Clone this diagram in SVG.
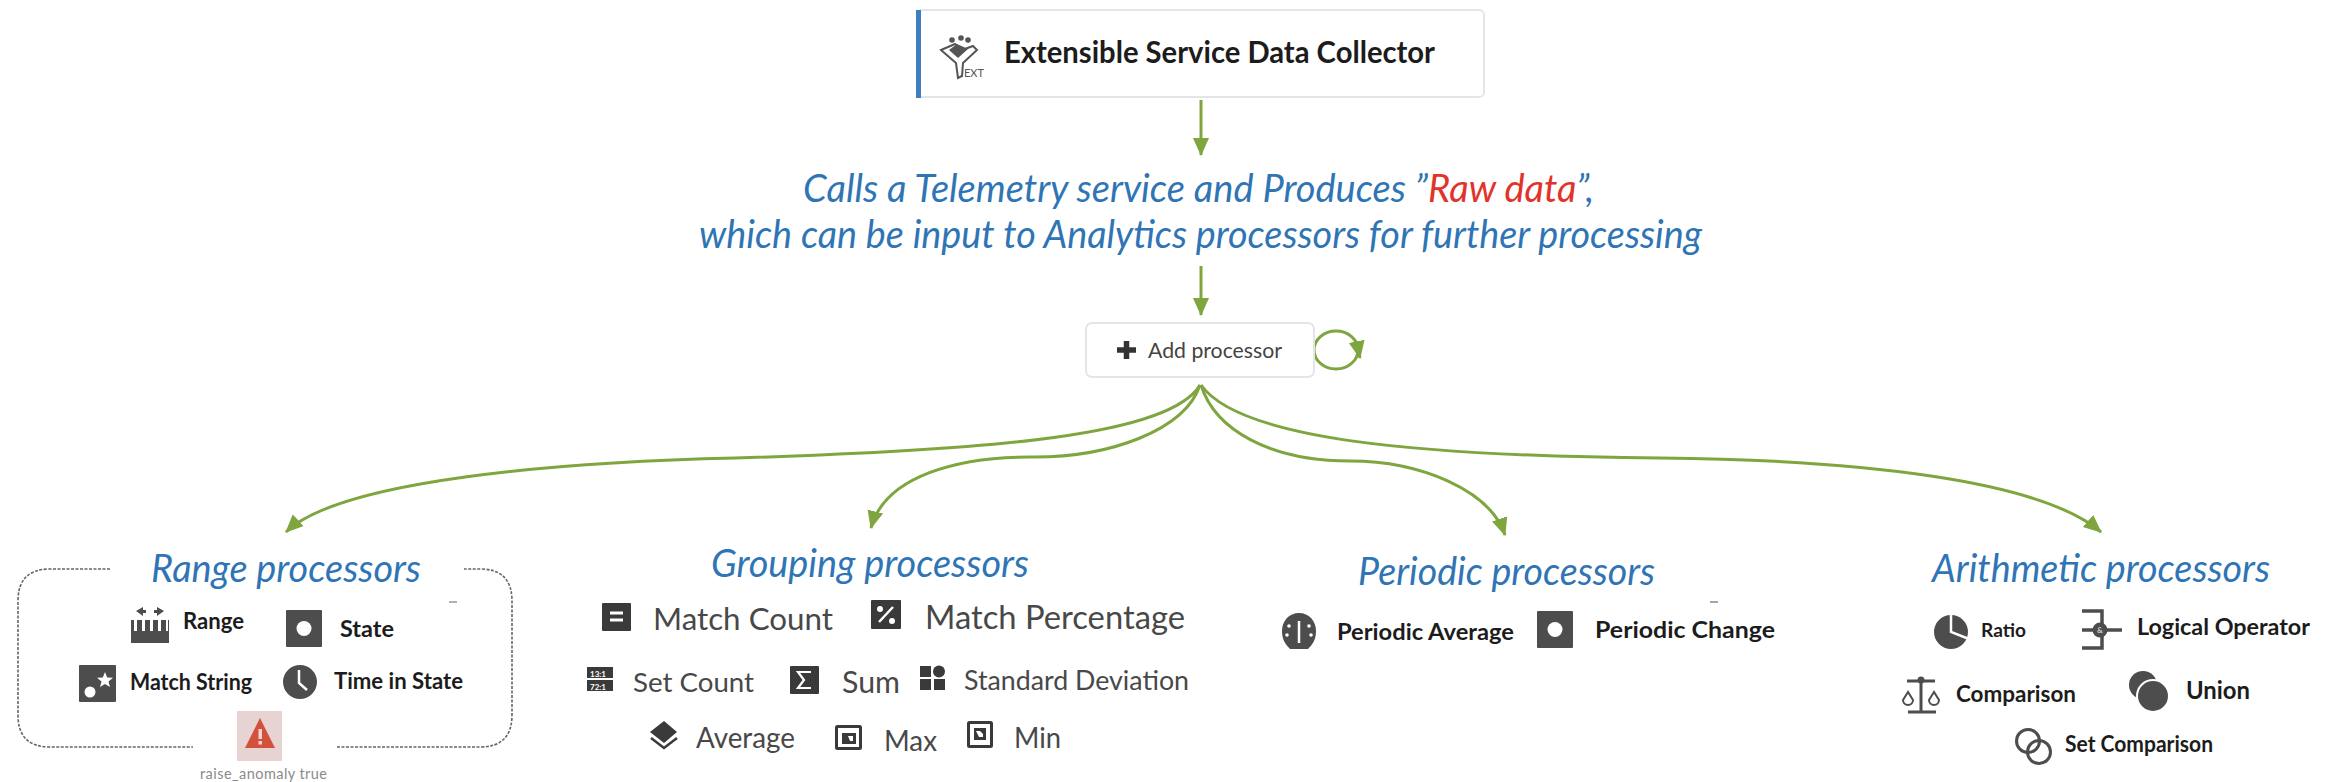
<svg xmlns="http://www.w3.org/2000/svg" xmlns:xlink="http://www.w3.org/1999/xlink" width="2333" height="782" viewBox="0 0 2333 782">
<style>
text{font-family:"Lato","Noto Sans","Liberation Sans",sans-serif}
.h{font-style:italic;fill:#2f75b5;font-size:38px}
.b{font-weight:700;fill:#1c1c1c;font-size:22.500px}
.r{fill:#484848;font-size:31px}
.i{fill:#4d4d4d}
.c{fill:none;stroke:#7fa53f;stroke-width:3}
.card{fill:#fff;stroke:#e3e6e9;stroke-width:2}
.dash{fill:none;stroke:#666;stroke-width:1.6;stroke-dasharray:3 1.5}
</style>
<defs>
<marker id="a" markerUnits="userSpaceOnUse" markerWidth="20" markerHeight="18" viewBox="0 0 20 18" refX="17" refY="9" orient="auto"><path d="M0 1L18 9L0 17Z" fill="#7fa53f"/></marker>
<g id="sq"><rect width="36" height="37" rx="1" class="i"/><circle cx="18" cy="18.500" r="7.500" fill="#fff"/></g>
</defs>
<rect width="2333" height="782" fill="#fff"/>
<g id="connectors">
<path class="c" d="M1201 100V155" marker-end="url(#a)"/>
<path class="c" d="M1201 266V315" marker-end="url(#a)"/>
<ellipse class="c" cx="1336" cy="350" rx="22" ry="19"/>
<path class="c" d="M1356 342Q1358 348 1360 358" marker-end="url(#a)"/>
<path class="c" d="M1200 385C1170 435 1000 450 735 458C560 462 340 480 286 532" marker-end="url(#a)"/>
<path class="c" d="M1200 385C1185 430 1110 458 1030 457C960 457 885 475 871 528" marker-end="url(#a)"/>
<path class="c" d="M1201 385C1215 430 1270 461 1350 461C1420 461 1490 490 1505 535" marker-end="url(#a)"/>
<path class="c" d="M1201 385C1240 440 1420 456 1660 458C1860 460 2040 480 2101 532" marker-end="url(#a)"/>
</g>
<g id="collector">
<rect class="card" x="917" y="10" width="567" height="87" rx="5"/>
<rect x="916" y="10" width="5" height="88" fill="#3f7fbf"/>
<g fill="#555"><circle cx="952" cy="40" r="2.800"/><circle cx="961" cy="38" r="2.800"/><circle cx="968" cy="40" r="2.800"/><path d="M941 50L955 44L962 50L973 46L977 50L963 63L962 76L958 78L956 63Z" fill="none" stroke="#555" stroke-width="2"/><path d="M949 50L957 44L968 49L958 58Z"/></g>
<text x="964" y="77" font-size="10.500" fill="#555" textLength="20" lengthAdjust="spacingAndGlyphs">EXT</text>
<text x="1004" y="63" font-size="30" font-weight="700" fill="#1c1c1c" textLength="431" lengthAdjust="spacingAndGlyphs">Extensible Service Data Collector</text>
</g>
<g id="description">
<text class="h" x="803" y="202">Calls a Telemetry service and Produces ”<tspan fill="#e2332a">Raw data</tspan>”,</text>
<text class="h" x="699" y="248" textLength="1003" lengthAdjust="spacingAndGlyphs">which can be input to Analytics processors for further processing</text>
</g>
<g id="add-processor">
<rect class="card" x="1086" y="323" width="228" height="54" rx="6"/>
<path d="M1117 350h19M1126.500 341v18" stroke="#333" stroke-width="5.500" fill="none"/>
<text x="1148" y="358" font-size="21.500" fill="#444" textLength="134" lengthAdjust="spacingAndGlyphs">Add processor</text>
</g>
<g id="range-processors">
<path class="dash" d="M110 569H50Q18 569 18 601V715Q18 747 50 747H193M337 747H480Q512 747 512 715V601Q512 569 480 569H464"/>
<text class="h" x="151" y="582" textLength="270" lengthAdjust="spacingAndGlyphs">Range processors</text>
<g id="range">
<path class="i" d="M131 620h3v11h3v-11h5v11h3v-11h5v11h3v-11h5v11h3v-11h5v11h2v-11h1v23h-38z"/>
<path class="i" d="M136 611l7-4v3h3v3h-3v3zM164 611l-7-4v3h-3v3h3v3z"/>
<text class="b" x="183" y="629" textLength="61" lengthAdjust="spacingAndGlyphs">Range</text></g>
<g id="state"><use xlink:href="#sq" href="#sq" x="286" y="610"/><text class="b" x="340" y="637" textLength="54" lengthAdjust="spacingAndGlyphs">State</text></g>
<g id="match-string"><rect class="i" x="79" y="665" width="37" height="37" rx="1"/><circle cx="90" cy="692" r="5.500" fill="#fff"/><path d="M105 672l2.200 5.500 5.800 .3-4.500 3.700 1.500 5.500-5-3-5 3 1.500-5.500-4.500-3.700 5.800-.3z" fill="#fff"/><text class="b" x="130" y="690" textLength="122" lengthAdjust="spacingAndGlyphs">Match String</text></g>
<g id="time-in-state"><circle class="i" cx="300" cy="682" r="17"/><path d="M299 670v13l8 7" stroke="#fff" stroke-width="2.500" fill="none"/><text class="b" x="334" y="689" textLength="129" lengthAdjust="spacingAndGlyphs">Time in State</text></g>
<g id="raise-anomaly"><rect x="237" y="711" width="45" height="50" fill="#e8d3d3"/><path d="M260 718L275 748H245Z" fill="#d2503c"/><rect x="258.500" y="729" width="3.500" height="10" fill="#f0d8d0"/><rect x="258.500" y="741" width="3.500" height="3.500" fill="#f0d8d0"/>
<text x="200" y="779" font-size="14.500" fill="#8a8a8a" textLength="127">raise_anomaly true</text></g>
<path d="M449 602h8" stroke="#8a99a8" stroke-width="1.500"/>
</g>
<g id="grouping-processors">
<text class="h" x="711" y="577" textLength="318" lengthAdjust="spacingAndGlyphs">Grouping processors</text>
<g id="match-count"><rect x="602" y="603" width="29" height="28" rx="1" fill="#3a3a3a"/><path d="M610 613h13M610 620h13" stroke="#fff" stroke-width="3"/><text class="r" x="653" y="630" textLength="180" lengthAdjust="spacingAndGlyphs">Match Count</text></g>
<g id="match-percentage"><rect x="871" y="600" width="30" height="29" rx="1" fill="#3a3a3a"/><path d="M879 622L893 607" stroke="#fff" stroke-width="2.500"/><circle cx="880" cy="609" r="3" fill="#fff"/><circle cx="892" cy="621" r="3" fill="#fff"/><text class="r" style="font-size:32.500px" x="925" y="629" textLength="260" lengthAdjust="spacingAndGlyphs">Match Percentage</text></g>
<g id="set-count"><rect x="587" y="667" width="26" height="11" fill="#3a3a3a"/><rect x="587" y="680" width="26" height="11" fill="#3a3a3a"/><text x="590" y="676.500" font-size="8" font-weight="700" fill="#fff">13:1</text><text x="590" y="689.500" font-size="8" font-weight="700" fill="#fff">72:1</text><text class="r" style="font-size:27.500px" x="633" y="692" textLength="121" lengthAdjust="spacingAndGlyphs">Set Count</text></g>
<g id="sum"><rect x="790" y="666" width="29" height="28" rx="1" fill="#3a3a3a"/><path d="M811 672h-13l6 8-6 8h13" stroke="#fff" stroke-width="2.200" fill="none"/><text class="r" style="font-size:30px" x="842" y="693" textLength="58" lengthAdjust="spacingAndGlyphs">Sum</text></g>
<g id="standard-deviation"><rect x="920" y="666" width="11" height="11" fill="#3a3a3a"/><circle cx="939" cy="671.500" r="6" fill="#3a3a3a"/><rect x="920" y="679" width="11" height="11" fill="#3a3a3a"/><rect x="934" y="679" width="11" height="11" fill="#3a3a3a"/><text class="r" style="font-size:27px" x="964" y="690" textLength="225" lengthAdjust="spacingAndGlyphs">Standard Deviation</text></g>
<g id="average"><path d="M664 721L677 732L664 743L650 732Z" fill="#3a3a3a"/><path d="M651 738L664 748L677 738" fill="none" stroke="#3a3a3a" stroke-width="2.500"/><text class="r" style="font-size:28px" x="696" y="748" textLength="99" lengthAdjust="spacingAndGlyphs">Average</text></g>
<g id="max"><rect x="836.500" y="726.500" width="24" height="22" rx="1" fill="none" stroke="#3a3a3a" stroke-width="3"/><path d="M842 733h14v11h-14z" fill="#3a3a3a"/><path d="M848 736h5v5h-3z" fill="#fff"/><text class="r" style="font-size:28px" x="884" y="751" textLength="53" lengthAdjust="spacingAndGlyphs">Max</text></g>
<g id="min"><rect x="968.500" y="722.500" width="23" height="24" rx="1" fill="none" stroke="#3a3a3a" stroke-width="3"/><path d="M974 728h12v12h-12z" fill="#3a3a3a"/><path d="M976 731h4l3 3v3h-4z" fill="#fff"/><text class="r" style="font-size:28px" x="1014" y="748" textLength="47" lengthAdjust="spacingAndGlyphs">Min</text></g>
</g>
<g id="periodic-processors">
<text class="h" x="1358" y="585" textLength="297" lengthAdjust="spacingAndGlyphs">Periodic processors</text>
<g id="periodic-average"><path class="i" d="M1299 613C1309 613 1316 621 1316 631C1316 639 1313 644 1308 649H1290C1285 644 1282 639 1282 631C1282 621 1289 613 1299 613Z"/><path d="M1299 621v22" stroke="#fff" stroke-width="2.500"/><circle cx="1289" cy="626" r="1.800" fill="#fff"/><circle cx="1309" cy="626" r="1.800" fill="#fff"/><circle cx="1287" cy="635" r="1.800" fill="#fff"/><circle cx="1311" cy="635" r="1.800" fill="#fff"/><text class="b" x="1337" y="640" style="font-size:23.500px" textLength="177" lengthAdjust="spacingAndGlyphs">Periodic Average</text></g>
<g id="periodic-change"><use xlink:href="#sq" href="#sq" x="1537" y="611"/><text class="b" x="1595" y="638" style="font-size:23.500px" textLength="180" lengthAdjust="spacingAndGlyphs">Periodic Change</text></g>
<path d="M1710 602h8" stroke="#8a8a8a" stroke-width="1.500"/>
</g>
<g id="arithmetic-processors">
<text class="h" x="1932" y="582" textLength="338" lengthAdjust="spacingAndGlyphs">Arithmetic processors</text>
<g id="ratio"><circle class="i" cx="1951" cy="632" r="17"/><path d="M1951 614V632L1969 639" stroke="#fff" stroke-width="2.500" fill="none"/><text class="b" style="font-size:19px" x="1981" y="637" textLength="45" lengthAdjust="spacingAndGlyphs">Ratio</text></g>
<g id="logical-operator"><path d="M2082 611h20v37h-20M2082 630h40" stroke="#4d4d4d" stroke-width="3.500" fill="none"/><circle class="i" cx="2100" cy="630" r="7.500"/><text x="2100" y="633" font-size="8" font-weight="700" fill="#ccc" text-anchor="middle">&amp;</text><text class="b" x="2137" y="635" style="font-size:23.500px" textLength="173" lengthAdjust="spacingAndGlyphs">Logical Operator</text></g>
<g id="comparison"><path d="M1921 678v34M1908 712h28M1907 681h28" stroke="#4d4d4d" stroke-width="3" fill="none"/><circle class="i" cx="1921" cy="680" r="3.500"/><path d="M1908 692l-5 8a5 5 0 0 0 10 0zM1934 692l-5 8a5 5 0 0 0 10 0z" fill="none" stroke="#4d4d4d" stroke-width="2"/><text class="b" x="1956" y="702" textLength="120" lengthAdjust="spacingAndGlyphs">Comparison</text></g>
<g id="union"><circle class="i" cx="2143" cy="685" r="14"/><circle cx="2153" cy="696" r="17" fill="#fff"/><circle class="i" cx="2153" cy="696" r="15"/><text class="b" style="font-size:24px" x="2186" y="699" textLength="64" lengthAdjust="spacingAndGlyphs">Union</text></g>
<g id="set-comparison"><circle cx="2028" cy="741" r="11.500" fill="none" stroke="#4d4d4d" stroke-width="3"/><circle cx="2039" cy="752" r="11.500" fill="none" stroke="#4d4d4d" stroke-width="3"/><text class="b" x="2065" y="752" textLength="148" lengthAdjust="spacingAndGlyphs">Set Comparison</text></g>
</g>
</svg>
